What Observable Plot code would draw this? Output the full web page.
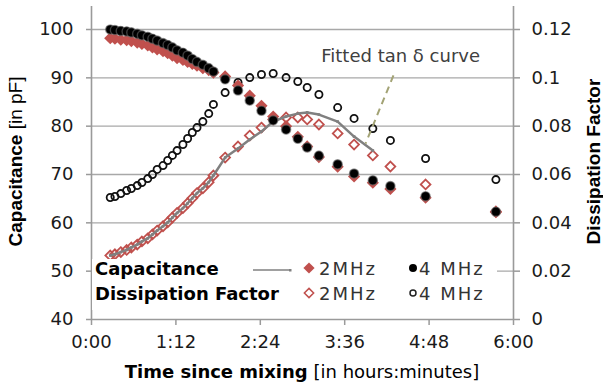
<!DOCTYPE html>
<html><head><meta charset="utf-8">
<script src="https://cdn.jsdelivr.net/npm/d3@7"></script>
<script src="https://cdn.jsdelivr.net/npm/@observablehq/plot@0.6"></script>
<style>
body{margin:0;background:#fff;}
#wrap{position:relative;width:603px;height:388px;}
</style></head><body><div id="wrap"></div>
<script>
// time since mixing, minutes
const minutes = [16,20,25,30,34,39,43,48,52,56,61,65,69,73,78,82,86,90,95,100,104,114,125,135,145,155,166,176,184,194,210,224,240,255,285,345];
// Capacitance [pF]
const cap2MHz = [98.2,98.1,97.9,97.8,97.6,97.3,97.0,96.7,96.3,95.9,95.5,95.1,94.6,94.1,93.7,93.3,92.9,92.5,92.0,91.6,91.1,90.3,88.4,86.3,84.2,82.0,80.0,77.8,75.8,73.6,71.6,69.6,68.3,67.0,65.2,62.2];
const cap4MHz = [100.0,99.9,99.7,99.6,99.4,99.1,98.8,98.5,98.1,97.7,97.2,96.8,96.3,95.7,95.2,94.6,93.9,93.3,92.7,92.0,91.3,89.7,87.4,85.3,83.2,81.2,79.3,77.4,75.6,73.9,72.1,70.2,68.8,67.6,65.5,62.3];
// Dissipation factor
const diss2MHz = [0.0265,0.0270,0.0279,0.0288,0.0298,0.0310,0.0323,0.0336,0.0352,0.0368,0.0386,0.0402,0.0422,0.0441,0.0461,0.0481,0.0502,0.0523,0.0543,0.0568,0.0596,0.0670,0.0716,0.0761,0.0794,0.0828,0.0836,0.0836,0.0828,0.0807,0.0770,0.0724,0.0679,0.0633,0.0559,0.0447];
const diss4MHz = [0.0505,0.0509,0.0521,0.0534,0.0542,0.0554,0.0567,0.0583,0.0600,0.0621,0.0637,0.0658,0.0679,0.0699,0.0724,0.0749,0.0774,0.0794,0.0819,0.0852,0.0890,0.0939,0.0981,0.1001,0.1014,0.1018,0.1001,0.0985,0.0960,0.0931,0.0877,0.0832,0.0790,0.0741,0.0666,0.0579];
// fitted tan delta curve (2 MHz)
const fitMinutes = [16,20,25,30,34,39,43,48,52,56,61,65,69,73,78,82,86,90,95,100,104,114,125,135,145,155,166,176,184,194,210,224,240];
const fitDiss = [0.0265,0.0270,0.0279,0.0288,0.0298,0.0310,0.0323,0.0336,0.0352,0.0368,0.0386,0.0402,0.0422,0.0441,0.0461,0.0481,0.0502,0.0523,0.0543,0.0568,0.0596,0.0670,0.0708,0.0745,0.0778,0.0819,0.0840,0.0852,0.0857,0.0848,0.0819,0.0757,0.0699];
// axes
const xTicks = [0,72,144,216,288,360];
const xTickLabels = ["0:00","1:12","2:24","3:36","4:48","6:00"];
const capTicks = [40,50,60,70,80,90,100];
const dissTickLabels = ["0","0.02","0.04","0.06","0.08","0.1","0.12"];
const xDomain = [0,360];
const yDomain = [40,104.76];
// annotation
const annotation = [{label:"Fitted tan δ curve", m:196, cap:94.4}];
const pointer = [{m1:257.6, d1:0.1010, m2:233.8, d2:0.0728}];

const toCap = d => 40 + d * 500; // right axis 0..0.12 maps to 40..100
const rows = minutes.map((m,i)=>({m, c2:cap2MHz[i], c4:cap4MHz[i], d2:diss2MHz[i], d4:diss4MHz[i]}));
const fitRows = fitMinutes.map((m,i)=>({m, d:fitDiss[i]}));
const RED = "#c0504d";
const AX = "#9a9a9a";

const svg = Plot.plot({
  width: 603, height: 388,
  marginLeft: 91, marginRight: 90, marginTop: 6, marginBottom: 69,
  style: {fontFamily: "DejaVu Sans, sans-serif", fontSize: "18px", color: "#1a1a1a", background: "#fff"},
  x: {domain: xDomain},
  y: {domain: yDomain},
  marks: [
    Plot.ruleY(capTicks.slice(1), {stroke: "#a8a8a8", strokeWidth: 1.3}),
    Plot.ruleX([xDomain[0]], {stroke: AX, strokeWidth: 1.6}),
    Plot.ruleX([xDomain[1]], {stroke: AX, strokeWidth: 1.6}),
    Plot.ruleY([yDomain[0]], {stroke: AX, strokeWidth: 1.6}),
    Plot.axisX({ticks: xTicks, tickFormat: d => xTickLabels[xTicks.indexOf(d)], tickSize: 6, tickPadding: 10, label: null, stroke: AX, strokeWidth: 1.5}),
    Plot.axisY({anchor: "left", ticks: capTicks, tickSize: 5, tickPadding: 13, label: null, stroke: AX, strokeWidth: 1.5}),
    Plot.axisY({anchor: "right", ticks: capTicks, tickFormat: d => dissTickLabels[capTicks.indexOf(d)], tickSize: 6, tickPadding: 12, label: null, stroke: AX, strokeWidth: 1.5}),
    Plot.dot(rows, {x: "m", y: d => toCap(d.d2), symbol: "diamond2", r: 4.4, stroke: RED, strokeWidth: 1.8, fill: "none"}),
    Plot.line(fitRows, {x: "m", y: d => toCap(d.d), stroke: "#808080", strokeWidth: 2.5}),
    Plot.dot(fitRows, {x: "m", y: d => toCap(d.d), symbol: "square", r: 1.5, fill: "#808080"}),
    Plot.dot(rows, {x: "m", y: d => toCap(d.d4), r: 3.6, stroke: "#111", strokeWidth: 1.8, fill: "none"}),
    Plot.dot(rows, {x: "m", y: "c2", symbol: "diamond2", r: 5.5, fill: RED}),
    Plot.dot(rows, {x: "m", y: "c4", r: 4.6, fill: "#000", stroke: "#666", strokeWidth: 1.4, strokeOpacity: 0.6}),
    Plot.link(pointer, {x1: "m1", y1: d => toCap(d.d1), x2: "m2", y2: d => toCap(d.d2), stroke: "#a3a375", strokeWidth: 2, strokeDasharray: "7,5"}),
    Plot.text(annotation, {x: "m", y: "cap", text: "label", textAnchor: "start", fill: "#404040", fontSize: 18})
  ]
});
document.getElementById("wrap").appendChild(svg);

const s = d3.select(svg);
// axis titles
const xt = s.append("text").attr("x", 302).attr("y", 378).attr("text-anchor", "middle")
  .attr("font-family", "DejaVu Sans, sans-serif").attr("font-size", 18).attr("fill", "#000");
xt.append("tspan").attr("font-weight", "bold").text("Time since mixing");
xt.append("tspan").text(" [in hours:minutes]");
const yl = s.append("text").attr("transform", "translate(21.5,161.5) rotate(-90)").attr("text-anchor", "middle")
  .attr("font-family", "Liberation Sans, Arial, sans-serif").attr("font-size", 19).attr("fill", "#000");
yl.append("tspan").attr("font-weight", "bold").text("Capacitance");
yl.append("tspan").text(" [in pF]");
s.append("text").attr("transform", "translate(599.5,161.5) rotate(-90)").attr("text-anchor", "middle")
  .attr("font-family", "Liberation Sans, Arial, sans-serif").attr("font-size", 19).attr("font-weight", "bold").attr("fill", "#000")
  .text("Dissipation Factor");

// legend
const lg = s.append("g").attr("font-family", "DejaVu Sans, sans-serif").attr("font-size", 18).attr("text-anchor", "start");
lg.append("rect").attr("x", 92).attr("y", 259).attr("width", 405).attr("height", 51).attr("fill", "#fff");
lg.append("text").attr("x", 95).attr("y", 275).attr("font-weight", "bold").attr("fill", "#000").text("Capacitance");
lg.append("text").attr("x", 95).attr("y", 300).attr("font-weight", "bold").attr("fill", "#000").text("Dissipation Factor");
lg.append("line").attr("x1", 253).attr("x2", 289).attr("y1", 270).attr("y2", 270).attr("stroke", "#808080").attr("stroke-width", 1.5);
lg.append("rect").attr("x", 289).attr("y", 269).attr("width", 2.5).attr("height", 2.5).attr("fill", "#808080");
const diamond = d3.symbol(d3.symbolDiamond2, 80)();
const circ = d3.symbol(d3.symbolCircle, 50)();
lg.append("path").attr("d", diamond).attr("transform", "translate(309,268)").attr("fill", RED);
lg.append("path").attr("d", d3.symbol(d3.symbolDiamond2, 55)()).attr("transform", "translate(309,293)").attr("fill", "none").attr("stroke", RED).attr("stroke-width", 1.5);
lg.append("path").attr("d", circ).attr("transform", "translate(413,268)").attr("fill", "#000");
lg.append("path").attr("d", d3.symbol(d3.symbolCircle, 28)()).attr("transform", "translate(413,293)").attr("fill", "none").attr("stroke", "#222").attr("stroke-width", 1.5);
[[319,275,"2MHz"],[319,300,"2MHz"],[419,275,"4 MHz"],[419,300,"4 MHz"]].forEach(([x,y,t]) => {
  lg.append("text").attr("x", x).attr("y", y).attr("fill", "#333").attr("letter-spacing", 2).text(t);
});
</script>
</body></html>
